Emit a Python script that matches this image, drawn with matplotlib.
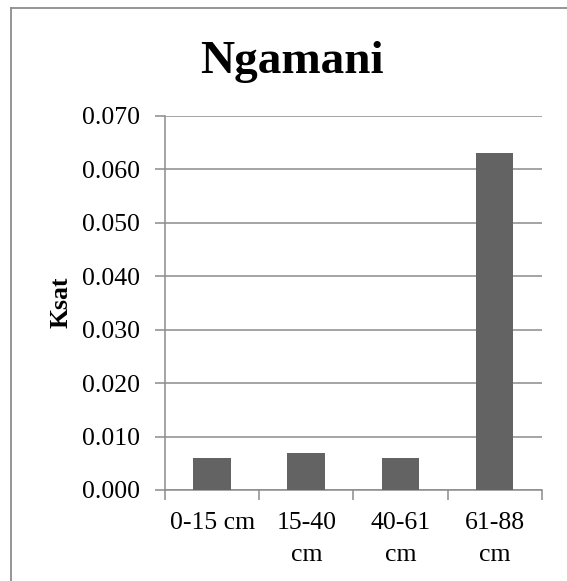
import matplotlib
matplotlib.use("Agg")
import matplotlib.pyplot as plt
from matplotlib.lines import Line2D
from matplotlib.ticker import FormatStrFormatter, MultipleLocator, FixedLocator

plt.rcParams['font.family'] = ['Liberation Serif', 'DejaVu Serif']

title = "Ngamani"
ylabel = "Ksat"
categories = ["0-15 cm", "15-40\ncm", "40-61\ncm", "61-88\ncm"]
values = [0.006, 0.007, 0.006, 0.063]

grid_color = "#8c8c8c"
bar_color = "#636363"

fig = plt.figure(figsize=(5.67, 5.81), dpi=100)
ax = fig.add_axes([165/567, 1-490/581, (541.7-165)/567, (490-116)/581])

x = list(range(len(categories)))
ax.bar(x, values, width=0.4, color=bar_color, zorder=3)

ax.set_xlim(-0.5, len(categories) - 0.5)
ax.set_ylim(0, 0.07)
ax.yaxis.set_major_locator(MultipleLocator(0.01))
ax.yaxis.set_major_formatter(FormatStrFormatter('%.3f'))
ax.yaxis.grid(True, color=grid_color, linewidth=1.1, zorder=0)
ax.set_axisbelow(True)

ax.set_xticks(x)
ax.set_xticklabels(categories, va='top', linespacing=1.55)
ax.xaxis.set_minor_locator(FixedLocator([i - 0.5 for i in range(len(categories) + 1)]))
ax.tick_params(axis='x', which='major', length=0, pad=16, labelsize=18.5)
ax.tick_params(axis='x', which='minor', length=7, width=1.1, color=grid_color, direction='out')
ax.tick_params(axis='y', length=7, width=1.1, color=grid_color, direction='out', pad=11, labelsize=18.5)

for s in ['top', 'right']:
    ax.spines[s].set_visible(False)
for s in ['left', 'bottom']:
    ax.spines[s].set_color(grid_color)
    ax.spines[s].set_linewidth(1.1)

fig.text(61/567, 1-302/581, ylabel, rotation=90, fontsize=18.5, fontweight='bold',
         ha='center', va='center')

fig.text(292/567, 1-73.3/581, title, fontsize=34, fontweight='bold', ha='center', va='baseline')

# outer chart border (cropped at right and bottom)
fig.add_artist(Line2D([11/567, 11/567], [0, 1-7.5/581], transform=fig.transFigure,
                      color=grid_color, linewidth=1.3))
fig.add_artist(Line2D([11/567, 1], [1-7.5/581, 1-7.5/581], transform=fig.transFigure,
                      color=grid_color, linewidth=1.3))

fig.savefig("out.png", dpi=100)
